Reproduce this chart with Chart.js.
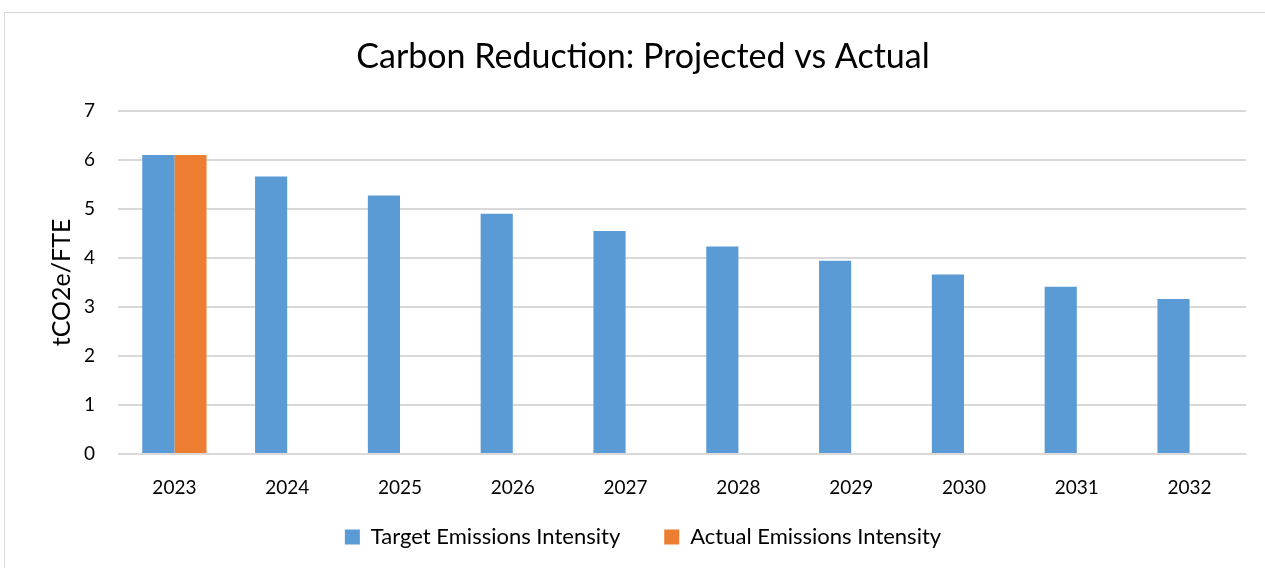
<!DOCTYPE html>
<html>
<head>
<meta charset="utf-8">
<script src="https://cdn.jsdelivr.net/npm/chart.js@4.4.1/dist/chart.umd.min.js"></script>
<style>
  body { margin: 0; background: #fff; overflow: hidden; }
  #frame { position: absolute; left: 4px; top: 12px; width: 1300px; height: 600px; border: 1px solid #d9d9d9; }
  #wrap { position: absolute; left: 0; top: 0; width: 1261px; height: 556px; }
</style>
</head>
<body>
<div id="frame"><div id="wrap"><canvas id="grafico"></canvas></div></div>
<script>
const anos = ['2023', '2024', '2025', '2026', '2027', '2028', '2029', '2030', '2031', '2032'];
const metaIntensidade = [6.1, 5.66, 5.27, 4.9, 4.55, 4.23, 3.94, 3.66, 3.41, 3.16];
const realIntensidade = [6.1, null, null, null, null, null, null, null, null, null];
const ticksY = [0, 1, 2, 3, 4, 5, 6, 7];

const fonte = 'Lato, "Open Sans", sans-serif';

// o eixo x fica baixo para a legenda subir; estica a area de recorte dos rotulos
const soltarRotulosX = {
  id: 'soltarRotulosX',
  afterLayout(chart) { chart.scales.x.bottom = chart.height; }
};

new Chart(document.getElementById('grafico').getContext('2d'), {
  type: 'bar',
  data: {
    labels: anos,
    datasets: [
      { label: 'Target Emissions Intensity', data: metaIntensidade, backgroundColor: '#5b9bd5' },
      { label: 'Actual Emissions Intensity', data: realIntensidade, backgroundColor: '#ed7d31' }
    ]
  },
  plugins: [soltarRotulosX],
  options: {
    responsive: true,
    maintainAspectRatio: false,
    animation: false,
    categoryPercentage: 0.57,
    barPercentage: 1,
    layout: { padding: { left: 35, right: 20, bottom: 11 } },
    plugins: {
      title: {
        display: true,
        text: 'Carbon Reduction: Projected vs Actual',
        color: '#000',
        font: { family: fonte, size: 34, weight: 'normal' },
        padding: { top: 24, bottom: 33 }
      },
      legend: {
        position: 'bottom',
        labels: {
          color: '#000',
          font: { family: fonte, size: 22 },
          boxWidth: 15,
          boxHeight: 15,
          padding: 44
        }
      },
      tooltip: { enabled: false }
    },
    scales: {
      x: {
        grid: { display: false },
        border: { color: '#d9d9d9', width: 1 },
        ticks: { color: '#000', font: { family: fonte, size: 19 }, padding: 14 },
        afterFit: (eixo) => { eixo.height = 28; }
      },
      y: {
        min: 0,
        max: 7,
        afterBuildTicks: (eixo) => { eixo.ticks = ticksY.map(v => ({ value: v })); },
        afterFit: (eixo) => { eixo.width = 78; },
        grid: { color: '#d9d9d9', lineWidth: 2, drawTicks: false },
        border: { display: false },
        ticks: { color: '#000', font: { family: fonte, size: 19 }, padding: 23 },
        title: {
          display: true,
          text: 'tCO2e/FTE',
          color: '#000',
          font: { family: fonte, size: 25 },
          padding: { top: 7, bottom: 0 }
        }
      }
    }
  }
});
</script>
</body>
</html>
